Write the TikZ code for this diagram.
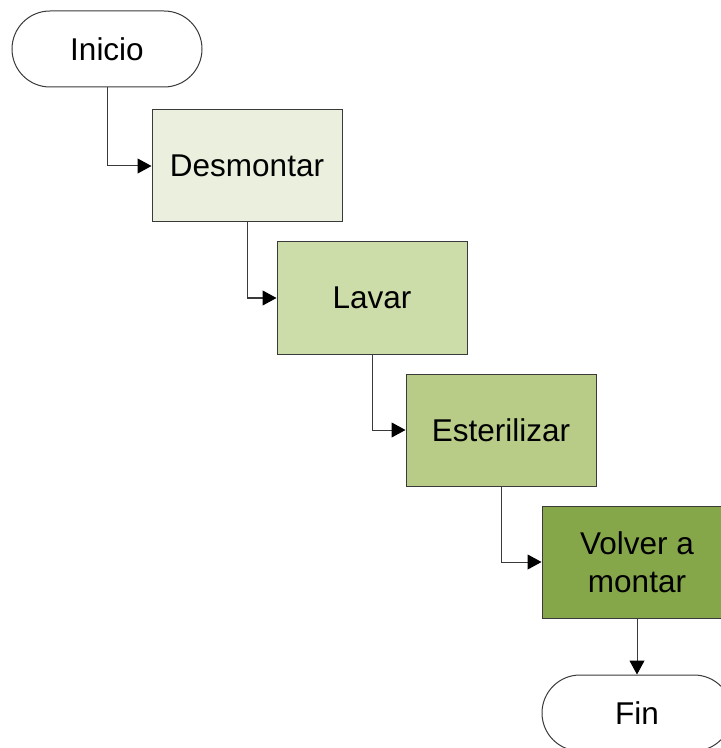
\documentclass[tikz,border=0pt]{standalone}
\usepackage{fontspec}
\setmainfont{Liberation Sans}
\usepackage{tikz}
\usetikzlibrary{arrows.meta}
\usetikzlibrary{calc}

\definecolor{stepone}{HTML}{EBF0DE}
\definecolor{steptwo}{HTML}{CCDDA9}
\definecolor{stepthree}{HTML}{B8CC88}
\definecolor{stepfour}{HTML}{86A64A}
\definecolor{edgegray}{HTML}{3A3A3A}

\begin{document}
\begin{tikzpicture}[x=0.5pt,y=-0.5pt,
  termnode/.style={draw=edgegray,line width=0.5pt,rounded corners=19pt,fill=white,
    minimum width=95pt,minimum height=38pt,inner sep=0pt},
  stepnode/.style={draw=edgegray,line width=0.5pt,minimum width=95pt,minimum height=56pt,
    inner sep=0pt,align=center},
  link/.style={draw=edgegray,line width=0.5pt,-{Triangle[length=7pt,width=7.5pt,color=black]}},
  font=\fontsize{15.75}{19}\selectfont]

\useasboundingbox (0,0) rectangle (721,748);

% Inicio
\node[termnode] (inicio) at (107,49) {Inicio};

% Steps
\node[stepnode,fill=stepone] (desmontar) at (247,166) {Desmontar};
\node[stepnode,fill=steptwo] (lavar) at (372,298) {Lavar};
\node[stepnode,fill=stepthree] (esterilizar) at (501,430) {Esterilizar};
\node[stepnode,fill=stepfour] (volver) at (637,562) {Volver a\\montar};

% Fin
\node[termnode] (fin) at (637,713) {Fin};

% Links
\draw[link] (inicio) |- (desmontar);
\draw[link] (desmontar) |- (lavar);
\draw[link] (lavar) |- (esterilizar);
\draw[link] (esterilizar) |- (volver);
\draw[link] (volver) -- (fin);

\end{tikzpicture}
\end{document}
